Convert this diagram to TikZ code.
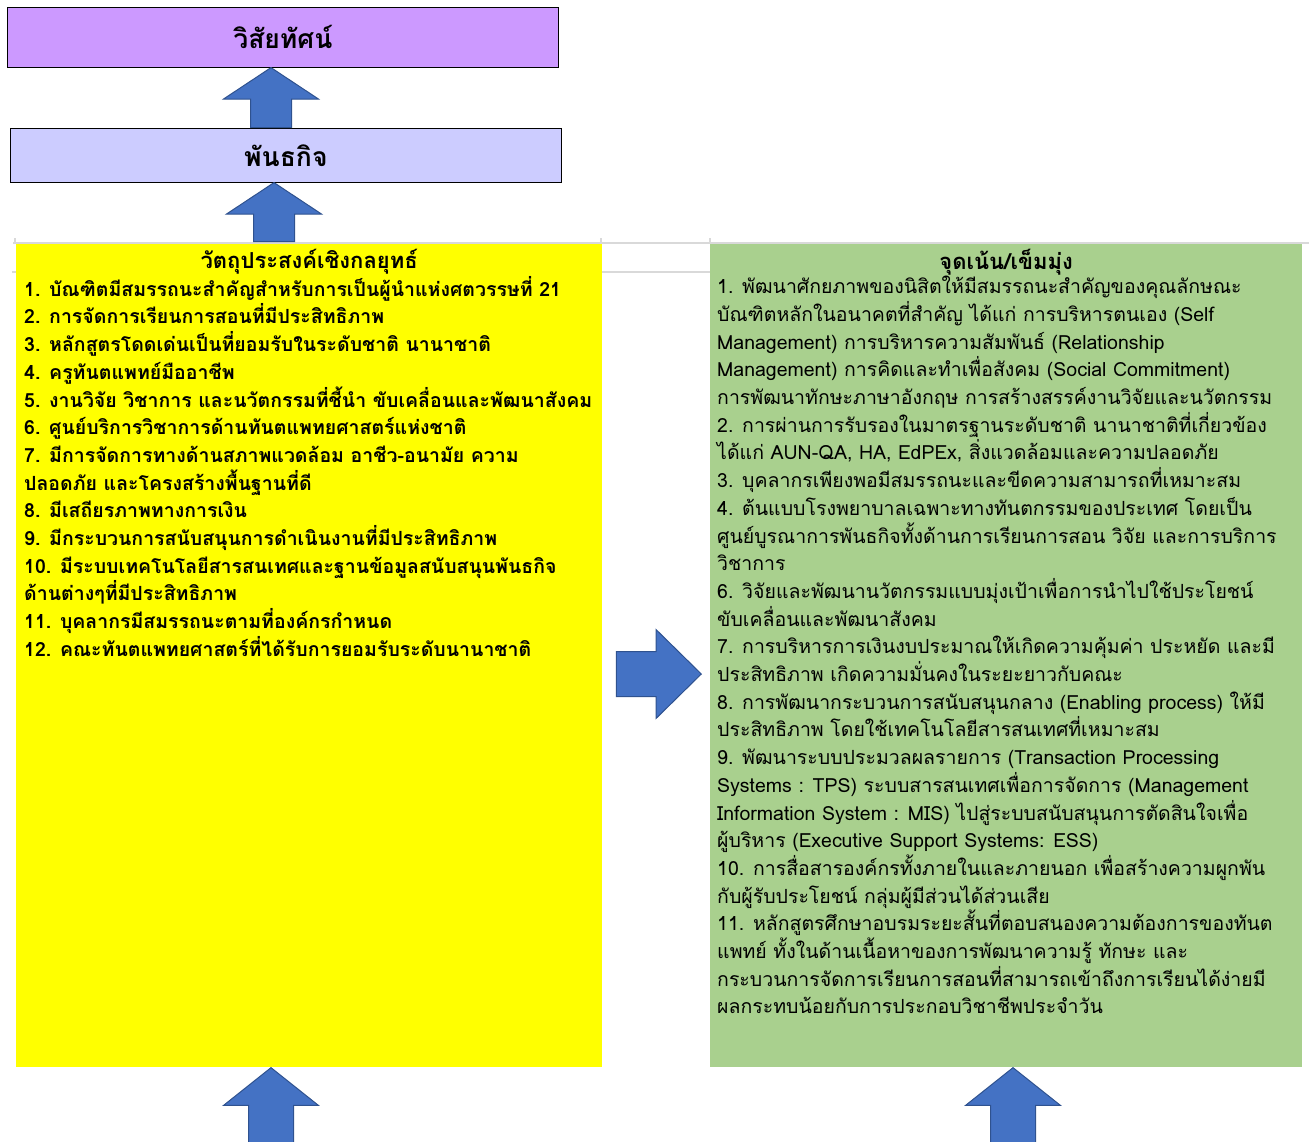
\documentclass[tikz,border=0pt]{standalone}
\usepackage{fontspec}
\newfontfamily\thaifont[Script=Thai]{Loma}
\usepackage{tikz}
\usetikzlibrary{positioning,shapes.arrows}
\definecolor{visionpurple}{HTML}{CC99FF}
\definecolor{missionblue}{HTML}{CCCCFF}
\definecolor{objyellow}{HTML}{FFFF00}
\definecolor{focusgreen}{HTML}{A9D08E}
\definecolor{arrowfill}{HTML}{4472C4}
\definecolor{arrowedge}{HTML}{2F528F}
\definecolor{gridgray}{HTML}{D9D9D9}

\begin{document}
\begin{tikzpicture}[
    x=1pt, y=-1pt,
    font=\thaifont,
    headbox/.style={
		rectangle,
		draw=black,
		line width=0.8pt,
		minimum width=551pt,
		inner sep=0pt,
		font=\thaifont\bfseries\fontsize{26.5}{30}\selectfont
	},
	colbox/.style={
		rectangle,
		inner sep=0pt,
		minimum height=823pt,
		anchor=north west
	},
	coltitle/.style={
		inner sep=0pt,
		anchor=base,
		font=\thaifont\bfseries\fontsize{22}{26}\selectfont
	},
	items/.style={
		inner sep=0pt,
		align=left,
		anchor=north west,
		font=\thaifont\fontsize{19.5}{27.7}\selectfont
	},
	blockarrow/.style={
		single arrow,
		draw=arrowedge,
		fill=arrowfill,
		line width=1pt,
		inner sep=0pt
	},
	gridline/.style={
		draw=gridgray,
		line width=1.2pt
	}
  ]
  \useasboundingbox (0,0) rectangle (1309,1141);

  % sheet grid left behind the boxes
  \draw [gridline] (13,243) -- (1309,243);
  \draw [gridline] (602,272) -- (710,272);
  \draw [gridline] (12,272) -- (16,272);
  \draw [gridline] (15,238) -- (15,244);
  \draw [gridline] (601,238) -- (601,244);
  \draw [gridline] (710,238) -- (710,244);

  % the blocks
  \node [headbox, fill=visionpurple, minimum height=60pt, anchor=north west] (vision) at (7,7) {วิสัยทัศน์};
  \node [headbox, fill=missionblue, minimum height=54pt, below right=60pt and 3pt of vision.south west, anchor=north west] (mission) {พันธกิจ};

  \node [colbox, fill=objyellow, minimum width=586pt] (objectives) at (16,244) {};
  \node [colbox, fill=focusgreen, minimum width=592pt] (focus) at (710,244) {};

  \node [coltitle] (objtitle) at (objectives.north |- 0,268) {วัตถุประสงค์เชิงกลยุทธ์};
  \node [coltitle] (focustitle) at (focus.north |- 0,269) {จุดเน้น/เข็มมุ่ง};

  \node [items, font=\thaifont\bfseries\fontsize{19.5}{27.7}\selectfont, below right=32pt and 8pt of objectives.north west] (objlist)
 {%
  1. บัณฑิตมีสมรรถนะสำคัญสำหรับการเป็นผู้นำแห่งศตวรรษที่ 21\\
  2. การจัดการเรียนการสอนที่มีประสิทธิภาพ\\
  3. หลักสูตรโดดเด่นเป็นที่ยอมรับในระดับชาติ นานาชาติ\\
  4. ครูทันตแพทย์มืออาชีพ\\
  5. งานวิจัย วิชาการ และนวัตกรรมที่ชี้นำ ขับเคลื่อนและพัฒนาสังคม\\
  6. ศูนย์บริการวิชาการด้านทันตแพทยศาสตร์แห่งชาติ\\
  7. มีการจัดการทางด้านสภาพแวดล้อม อาชีว-อนามัย ความ\\
  ปลอดภัย และโครงสร้างพื้นฐานที่ดี\\
  8. มีเสถียรภาพทางการเงิน\\
  9. มีกระบวนการสนับสนุนการดำเนินงานที่มีประสิทธิภาพ\\
  10. มีระบบเทคโนโลยีสารสนเทศและฐานข้อมูลสนับสนุนพันธกิจ\\
  ด้านต่างๆที่มีประสิทธิภาพ\\
  11. บุคลากรมีสมรรถนะตามที่องค์กรกำหนด\\
  12. คณะทันตแพทยศาสตร์ที่ได้รับการยอมรับระดับนานาชาติ
 };

  \node [items, below right=32pt and 7pt of focus.north west] (focuslist)
 {%
  1. พัฒนาศักยภาพของนิสิตให้มีสมรรถนะสำคัญของคุณลักษณะ\\
  บัณฑิตหลักในอนาคตที่สำคัญ ได้แก่ การบริหารตนเอง (Self\\
  Management) การบริหารความสัมพันธ์ (Relationship\\
  Management) การคิดและทำเพื่อสังคม (Social Commitment)\\
  การพัฒนาทักษะภาษาอังกฤษ การสร้างสรรค์งานวิจัยและนวัตกรรม\\
  2. การผ่านการรับรองในมาตรฐานระดับชาติ นานาชาติที่เกี่ยวข้อง\\
  ได้แก่ AUN-QA, HA, EdPEx, สิ่งแวดล้อมและความปลอดภัย\\
  3. บุคลากรเพียงพอมีสมรรถนะและขีดความสามารถที่เหมาะสม\\
  4. ต้นแบบโรงพยาบาลเฉพาะทางทันตกรรมของประเทศ โดยเป็น\\
  ศูนย์บูรณาการพันธกิจทั้งด้านการเรียนการสอน วิจัย และการบริการ\\
  วิชาการ\\
  6. วิจัยและพัฒนานวัตกรรมแบบมุ่งเป้าเพื่อการนำไปใช้ประโยชน์\\
  ขับเคลื่อนและพัฒนาสังคม\\
  7. การบริหารการเงินงบประมาณให้เกิดความคุ้มค่า ประหยัด และมี\\
  ประสิทธิภาพ เกิดความมั่นคงในระยะยาวกับคณะ\\
  8. การพัฒนากระบวนการสนับสนุนกลาง (Enabling process) ให้มี\\
  ประสิทธิภาพ โดยใช้เทคโนโลยีสารสนเทศที่เหมาะสม\\
  9. พัฒนาระบบประมวลผลรายการ (Transaction Processing\\
  Systems : TPS) ระบบสารสนเทศเพื่อการจัดการ (Management\\
  Information System : MIS) ไปสู่ระบบสนับสนุนการตัดสินใจเพื่อ\\
  ผู้บริหาร (Executive Support Systems: ESS)\\
  10. การสื่อสารองค์กรทั้งภายในและภายนอก เพื่อสร้างความผูกพัน\\
  กับผู้รับประโยชน์ กลุ่มผู้มีส่วนได้ส่วนเสีย\\
  11. หลักสูตรศึกษาอบรมระยะสั้นที่ตอบสนองความต้องการของทันต\\
  แพทย์ ทั้งในด้านเนื้อหาของการพัฒนาความรู้ ทักษะ และ\\
  กระบวนการจัดการเรียนการสอนที่สามารถเข้าถึงการเรียนได้ง่ายมี\\
  ผลกระทบน้อยกับการประกอบวิชาชีพประจำวัน
 };

  % block arrows between the blocks
  \node [blockarrow, shape border rotate=90, inner xsep=20pt, single arrow head extend=27pt,
         single arrow tip angle=113, minimum height=60pt, anchor=tip] (upvision) at (271,67) {};
  \node [blockarrow, shape border rotate=90, inner xsep=20pt, single arrow head extend=27pt,
         single arrow tip angle=113, minimum height=59pt, anchor=tip] (upmission) at (274,182) {};
  \node [blockarrow, inner ysep=22pt, single arrow head extend=22pt,
         single arrow tip angle=89, minimum height=85pt, anchor=tip] (tofocus) at (702,674) {};
  \node [blockarrow, shape border rotate=90, inner xsep=22pt, single arrow head extend=25pt,
         single arrow tip angle=103, minimum height=76pt, anchor=tip] (upobj) at (271,1067) {};
  \node [blockarrow, shape border rotate=90, inner xsep=22pt, single arrow head extend=25pt,
         single arrow tip angle=103, minimum height=76pt, anchor=tip] (upfocus) at (1013,1067) {};

\end{tikzpicture}
\end{document}
